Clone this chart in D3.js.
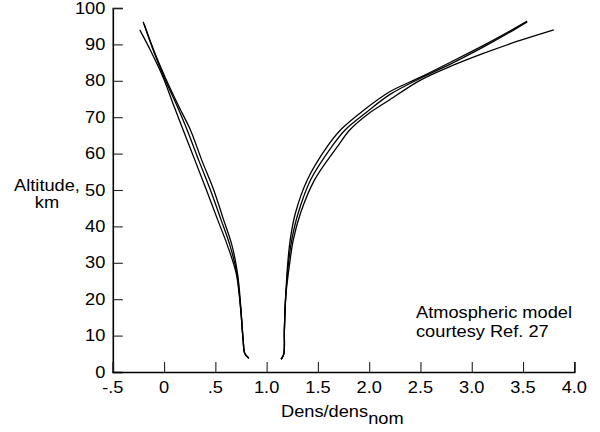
<!DOCTYPE html>
<html>
<head>
<meta charset="utf-8">
<script src="https://cdn.jsdelivr.net/npm/d3@7/dist/d3.min.js"></script>
<style>
  html, body { margin: 0; padding: 0; background: #fff; }
  svg { display: block; }
  text { font-family: "Liberation Sans", Arial, Helvetica, sans-serif; fill: #000; }
</style>
</head>
<body>
<svg id="chart" width="600" height="432"></svg>
<script>
// ---- data: [density ratio, altitude km] ----
const left1 = [[0.826,3.8],[0.787,5.1],[0.771,8.8],[0.745,17.9],[0.703,27.1],[0.615,35],[0.52,42],[0.413,50],[0.303,58],[0.186,66.5],[0.097,73],[-0.01,81],[-0.126,88],[-0.237,94.0]];
const left2 = [[0.826,3.8],[0.787,5.1],[0.771,8.8],[0.745,17.9],[0.71,27.1],[0.64,35],[0.553,42],[0.452,50],[0.34,58],[0.225,66.5],[0.128,73],[0.0,81],[-0.10,88],[-0.204,96.2]];
const left3 = [[0.826,3.8],[0.787,5.1],[0.771,8.8],[0.748,17.9],[0.716,27.1],[0.66,35],[0.578,42],[0.484,50],[0.37,58],[0.257,66.5],[0.143,73],[0.01,81],[-0.095,88],[-0.195,95.6]];
const right1 = [[1.141,3.5],[1.167,4.9],[1.173,11.5],[1.186,20.7],[1.225,29.9],[1.26,36.3],[1.33,43.6],[1.466,52.7],[1.69,61.9],[1.81,66.5],[1.98,70.7],[2.174,74.3],[2.5,80.2],[2.82,84.3],[3.12,87.6],[3.44,90.8],[3.80,94.0]];
const right2 = [[1.141,3.5],[1.167,4.9],[1.173,11.5],[1.186,20.7],[1.213,29.9],[1.245,36.3],[1.307,43.6],[1.427,52.7],[1.635,61.9],[1.765,66.5],[1.98,71.5],[2.2,76.2],[2.5,80.7],[2.82,85.0],[3.12,89.4],[3.35,93.0],[3.54,96.2]];
const right3 = [[1.141,3.5],[1.167,4.9],[1.173,11.5],[1.186,20.7],[1.206,29.9],[1.23,36.3],[1.28,43.6],[1.395,52.7],[1.59,61.9],[1.72,66.5],[1.95,72.0],[2.2,77.0],[2.5,81.0],[2.82,85.5],[3.12,89.8],[3.35,93.3],[3.54,96.4]];
const series = [left1, left2, left3, right1, right2, right3];

const xTicks = [-0.5, 0, 0.5, 1.0, 1.5, 2.0, 2.5, 3.0, 3.5, 4.0];
const xTickLabels = ["-.5", "0", ".5", "1.0", "1.5", "2.0", "2.5", "3.0", "3.5", "4.0"];
const yTicks = [0, 10, 20, 30, 40, 50, 60, 70, 80, 90, 100];
const yTitle = ["Altitude,", "km"];
const xTitleMain = "Dens/dens";
const xTitleSub = "nom";
const note = ["Atmospheric model", "courtesy Ref. 27"];

// ---- layout ----
const svg = d3.select("#chart");
const x = d3.scaleLinear().domain([-0.5, 4.0]).range([112.8, 574.3]);
const y = d3.scaleLinear().domain([0, 100]).range([372, 8]);
const SX = 1.14; // horizontal stretch of the lettering
const FS = 16;

function label(g, tx, ty, str, anchor) {
  return g.append("text")
    .attr("transform", `translate(${tx},${ty}) scale(${SX},1)`)
    .attr("text-anchor", anchor || "start")
    .attr("font-size", FS)
    .text(str);
}

// axes
const yAxis = d3.axisLeft(y).tickValues(yTicks).tickSize(-10).tickFormat("");
const xAxis = d3.axisBottom(x).tickValues(xTicks).tickSize(-10).tickFormat("");
const gy = svg.append("g").attr("transform", `translate(${x(-0.5)},0)`).call(yAxis);
const gx = svg.append("g").attr("transform", `translate(0,${y(0)})`).call(xAxis);
[gx, gy].forEach(g => {
  g.select(".domain").attr("stroke", "#000").attr("stroke-width", 1.6);
  g.selectAll(".tick line").attr("stroke", "#222").attr("stroke-width", 1.1);
});

// tick labels
const tl = svg.append("g");
yTicks.forEach(v => label(tl, 105.3, y(v) + 5.6, String(v), "end"));
xTicks.forEach((v, i) => label(tl, x(v), 393.3, xTickLabels[i], "middle"));

// axis titles
label(svg, 47, 191, yTitle[0], "middle");
label(svg, 47, 208, yTitle[1], "middle");
const xt = svg.append("text")
  .attr("transform", `translate(281,416.5) scale(${SX},1)`)
  .attr("font-size", FS);
xt.append("tspan").text(xTitleMain);
xt.append("tspan").attr("dy", 7).text(xTitleSub);

// note
label(svg, 416, 317.7, note[0], "start");
label(svg, 416, 336.7, note[1], "start");

// curves
const line = d3.line()
  .x(d => x(d[0]))
  .y(d => y(d[1]))
  .curve(d3.curveCatmullRom.alpha(0.5));
svg.append("g").selectAll("path").data(series).join("path")
  .attr("d", line)
  .attr("fill", "none")
  .attr("stroke", "#000")
  .attr("stroke-width", 1.3)
  .attr("stroke-linejoin", "round");
</script>
</body>
</html>
